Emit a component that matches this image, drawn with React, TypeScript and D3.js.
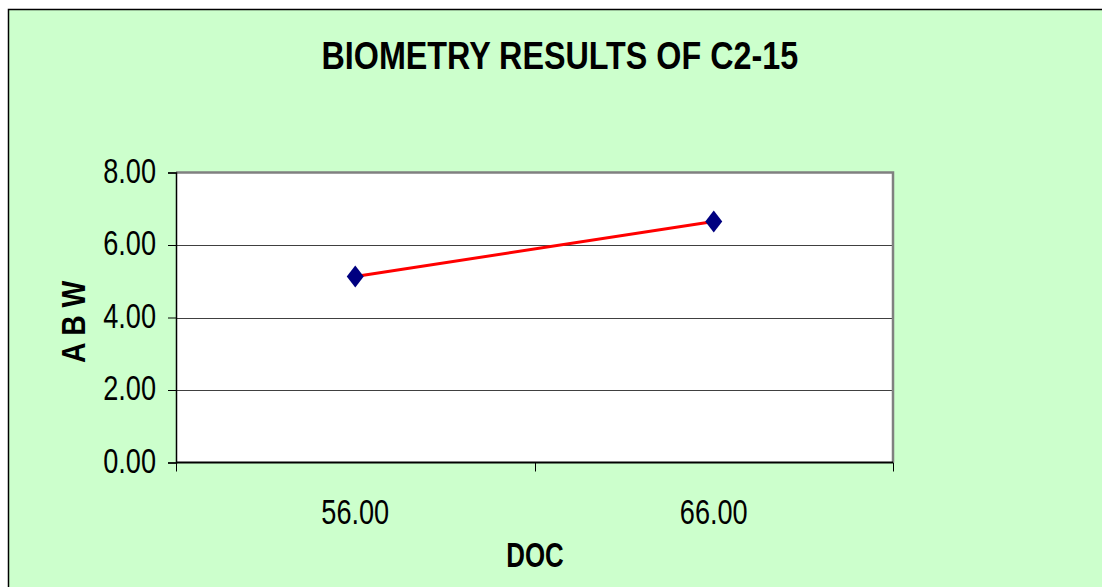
import React, { useEffect, useRef } from 'react';
import * as d3 from 'd3';

const categories = ['56.00', '66.00'];
const abwValues = [5.13, 6.65];
const yTicks = [0, 2, 4, 6, 8];

const W = 1102;
const H = 587;
const FONT = "'Liberation Sans', Arial, sans-serif";

const App: React.FC = () => {
  const svgRef = useRef<SVGSVGElement>(null);

  useEffect(() => {
    if (!svgRef.current) return;
    const svg = d3.select(svgRef.current);
    svg.selectAll('*').remove();

    const plot = { left: 176, right: 893, top: 172.5, bottom: 462.5 };

    const x = d3.scaleBand<string>().domain(categories).range([plot.left, plot.right]).padding(0);
    const y = d3.scaleLinear().domain([0, 8]).range([plot.bottom, plot.top]);

    // no narrow face installed, so squeeze the regular one horizontally
    const label = (
      tx: number, ty: number, text: string, size: number, squeeze: number,
      opts: { bold?: boolean; anchor?: string; rotate?: number } = {}
    ) =>
      svg.append('text')
        .attr('transform', `translate(${tx},${ty}) rotate(${opts.rotate || 0}) scale(${squeeze},1)`)
        .attr('text-anchor', opts.anchor || 'middle')
        .style('font-family', FONT)
        .style('font-size', `${size}px`)
        .style('font-weight', opts.bold ? 'bold' : 'normal')
        .attr('fill', '#000')
        .text(text);

    // chart area
    svg.append('rect')
      .attr('x', 8.5).attr('y', 9.5)
      .attr('width', W).attr('height', H)
      .attr('fill', '#CCFFCC')
      .attr('stroke', '#000').attr('stroke-width', 1.5);

    // plot area
    svg.append('rect')
      .attr('x', plot.left).attr('y', plot.top)
      .attr('width', plot.right - plot.left).attr('height', plot.bottom - plot.top)
      .attr('fill', '#fff');

    // gridlines
    svg.append('g')
      .selectAll('line')
      .data(yTicks.filter(t => t > 0 && t < 8))
      .enter()
      .append('line')
      .attr('x1', plot.left).attr('x2', plot.right)
      .attr('y1', d => Math.round(y(d)) + 0.5).attr('y2', d => Math.round(y(d)) + 0.5)
      .attr('stroke', '#404040').attr('stroke-width', 1);

    // plot border top/right
    svg.append('path')
      .attr('d', `M${plot.left},${plot.top} H${plot.right} V${plot.bottom}`)
      .attr('fill', 'none').attr('stroke', '#808080').attr('stroke-width', 2.5);

    // y axis
    const yAxis = d3.axisLeft(y).tickValues(yTicks).tickSize(8).tickFormat(() => '');
    const gy = svg.append('g').attr('transform', `translate(${plot.left},0)`).call(yAxis);
    gy.select('.domain').attr('stroke', '#000').attr('stroke-width', 1.5);
    gy.selectAll('.tick line').attr('stroke', '#000');
    yTicks.forEach(t => label(156, y(t) + 10.2, t.toFixed(2), 35, 0.775, { anchor: 'end' }));

    // x axis (category boundaries)
    svg.append('line')
      .attr('x1', plot.left).attr('x2', plot.right)
      .attr('y1', plot.bottom).attr('y2', plot.bottom)
      .attr('stroke', '#000').attr('stroke-width', 2);
    const bounds = [...categories.map(c => x(c) as number), plot.right];
    svg.append('g')
      .selectAll('line')
      .data(bounds)
      .enter()
      .append('line')
      .attr('x1', d => Math.round(d) + 0.5).attr('x2', d => Math.round(d) + 0.5)
      .attr('y1', plot.bottom).attr('y2', plot.bottom + 9)
      .attr('stroke', '#000').attr('stroke-width', 1);
    categories.forEach(c => label((x(c) as number) + x.bandwidth() / 2, 524, c, 35, 0.775));

    // series line
    const pts = categories.map((c, i) => [(x(c) as number) + x.bandwidth() / 2, y(abwValues[i])] as [number, number]);
    svg.append('path')
      .attr('d', d3.line()(pts) as string)
      .attr('fill', 'none').attr('stroke', '#FF0000').attr('stroke-width', 3);

    // diamond markers
    svg.append('g')
      .selectAll('path')
      .data(pts)
      .enter()
      .append('path')
      .attr('d', d => `M${d[0]},${d[1] - 11} L${d[0] + 8.5},${d[1]} L${d[0]},${d[1] + 11} L${d[0] - 8.5},${d[1]} Z`)
      .attr('fill', '#000080');

    // titles
    label(559.8, 69, 'BIOMETRY RESULTS OF C2-15', 38, 0.85, { bold: true });
    label(535, 567.3, 'DOC', 35, 0.74, { bold: true });
    label(85, 322, 'A B W', 32.5, 0.87, { bold: true, rotate: -90 });
  }, []);

  return (
    <svg
      ref={svgRef}
      width={W}
      height={H}
      style={{ position: 'absolute', left: 0, top: 0, display: 'block' }}
    />
  );
};

export default App;
